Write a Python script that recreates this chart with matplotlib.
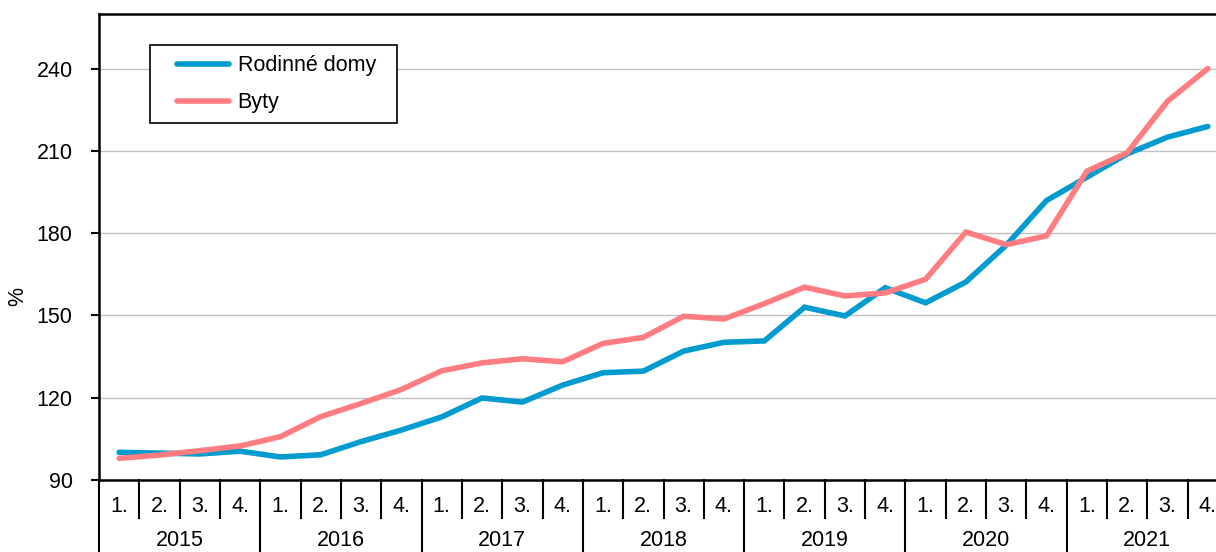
import matplotlib
matplotlib.use("Agg")
import matplotlib.pyplot as plt
import matplotlib.transforms as mtransforms
from matplotlib.legend_handler import HandlerLine2D
import numpy as np

plt.rcParams['font.family'] = ['Liberation Sans', 'DejaVu Sans']
plt.rcParams['font.size'] = 15.5

# ---------------------------------------------------------------------------
# DATA
# ---------------------------------------------------------------------------
years = ["2015", "2016", "2017", "2018", "2019", "2020", "2021"]
quarters = ["1.", "2.", "3.", "4."]

rodinne_domy = [100.1, 99.8, 99.5, 100.5, 98.4, 99.2, 104.0, 108.2,
                113.0, 119.9, 118.4, 124.6, 129.1, 129.7, 137.0, 140.2,
                140.7, 153.0, 149.8, 160.1, 154.6, 162.2, 175.6, 191.9,
                200.4, 208.9, 215.0, 218.9]
byty = [97.9, 99.1, 100.7, 102.4, 105.8, 113.1, 117.9, 123.0,
        129.8, 132.7, 134.2, 133.1, 139.8, 142.0, 149.7, 148.7,
        154.3, 160.3, 157.1, 158.2, 163.2, 180.4, 175.8, 179.0,
        202.6, 209.3, 228.1, 240.0]

yticks = [90, 120, 150, 180, 210, 240]

# ---------------------------------------------------------------------------
# PLOT
# ---------------------------------------------------------------------------
W, H = 1216, 552
fig = plt.figure(figsize=(W / 100, H / 100), dpi=100)
ax = fig.add_axes([99 / W, 72 / H, (1228 - 99) / W, (480 - 13.7) / H])

n = len(years) * len(quarters)
x = np.arange(n)
ax.plot(x, rodinne_domy, color="#009BCF", lw=4, solid_capstyle="round",
        solid_joinstyle="miter", label="Rodinné domy", zorder=3)
ax.plot(x, byty, color="#FF7C80", lw=4, solid_capstyle="round",
        solid_joinstyle="miter", label="Byty", zorder=3)

ax.set_xlim(-0.5, n - 0.5)
ax.set_ylim(90, 260)
ax.set_yticks(yticks)
ax.yaxis.grid(True, color="#c0c0c0", lw=1)
ax.set_axisbelow(True)
ax.tick_params(axis="y", length=6, width=1.5, pad=13)
ax.set_xticks([])
for s in ax.spines.values():
    s.set_linewidth(1.8)
ax.set_ylabel("%")
ax.yaxis.set_label_coords(-0.063, (480 - 297) / (480 - 13.7))

# category axis: quarters and years
trans = mtransforms.blended_transform_factory(ax.transData, ax.transAxes)
ah = (480 - 13.7)
for i in range(n + 1):
    bottom = -80 / ah if i % 4 == 0 else -38 / ah
    ax.plot([i - 0.5, i - 0.5], [0, bottom], color="black", lw=1.5,
            transform=trans, clip_on=False)
for i in range(n):
    ax.text(i, -31.7 / ah, quarters[i % 4], transform=trans, ha="center",
            va="baseline")
for j, yr in enumerate(years):
    ax.text(j * 4 + 1.5, -66.5 / ah, yr, transform=trans, ha="center",
            va="baseline")

hl = HandlerLine2D(xpad=0.8)
leg = ax.legend(loc="upper left",
                bbox_to_anchor=((150 - 99) / 1129, (480 - 45) / ah, 247 / 1129, 0),
                mode="expand",
                borderaxespad=0, fancybox=False, edgecolor="black",
                framealpha=1, handlelength=3.2, handletextpad=0.4,
                borderpad=0.47, labelspacing=0.75,
                handler_map={ln: hl for ln in ax.get_lines()[:2]})
leg.get_frame().set_linewidth(1.2)

fig.savefig("out.png", dpi=100)
